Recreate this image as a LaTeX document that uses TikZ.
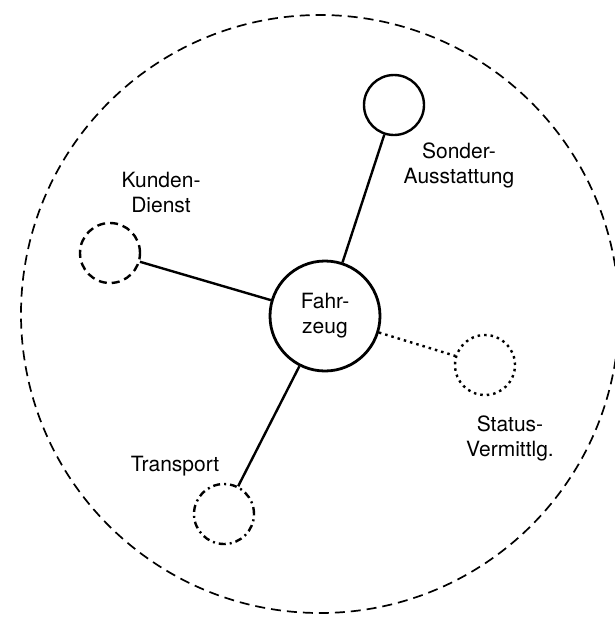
\documentclass[tikz,border=0pt]{standalone}
\usepackage{fontspec}
\setmainfont{TeX Gyre Heros}
\usetikzlibrary{positioning}

\begin{document}
\begin{tikzpicture}[
  x=1pt, y=-1pt,
  every node/.style={font=\fontsize{21}{25}\selectfont, align=center},
  hub/.style={draw, circle, line width=2.8pt, minimum size=110pt, inner sep=0pt},
  part/.style={draw, circle, line width=2.4pt, minimum size=60pt, inner sep=0pt},
  strich/.style={dash pattern=on 8pt off 5pt},
  punkt/.style={dash pattern=on 2.5pt off 4pt},
  strichpunkt/.style={dash pattern=on 7pt off 4pt on 2pt off 4pt},
  link/.style={line width=2.4pt}
]
\useasboundingbox (0,0) rectangle (615,622);
\node[draw, circle, line width=1.7pt, dash pattern=on 10pt off 6pt, minimum size=598pt] (bereich) at (320,314) {};

\node[hub] (fahrzeug) at (325,316) {Fahr-\\zeug};
\node[part] (sonder) at (394,105) {};
\node[part, strich] (kunden) at (110,253) {};
\node[part, punkt] (status) at (485,365) {};
\node[part, strichpunkt] (transport) at (224,514) {};

\node (sonderlbl) at (459,165) {Sonder-\\Ausstattung};
\node (kundenlbl) at (161,192) {Kunden-\\Dienst};
\node (statuslbl) at (510,438) {Status-\\Vermittlg.};
\node (transportlbl) at (175,466) {Transport};

\draw[link] (fahrzeug) -- (sonder);
\draw[link] (fahrzeug) -- (kunden);
\draw[link] (fahrzeug) -- (transport);
\draw[link, punkt] (fahrzeug) -- (status);
\end{tikzpicture}
\end{document}
